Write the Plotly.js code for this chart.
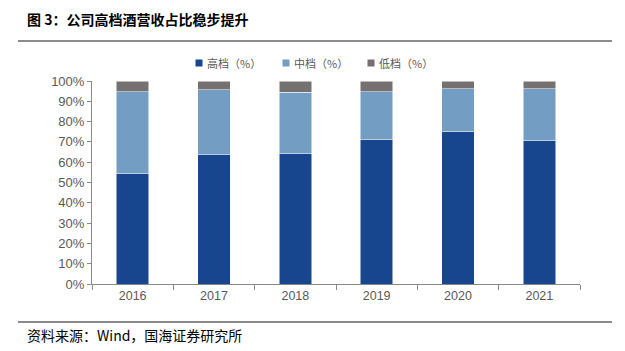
<!DOCTYPE html>
<html><head><meta charset="utf-8">
<script src="https://cdn.plot.ly/plotly-3.0.1.min.js"></script>
<style>html,body{margin:0;padding:0;background:#fff;}#chart{width:625px;height:351px;}</style>
</head><body><div id="chart"></div>
<script>
const years = ['2016','2017','2018','2019','2020','2021'];
const high = [54.2, 63.7, 64.2, 71.1, 74.9, 70.6];
const mid = [40.5, 31.9, 30.2, 23.6, 21.2, 25.5];
const low = [5.3, 4.4, 5.6, 5.3, 3.9, 3.9];
const names = ['高档（%）', '中档（%）', '低档（%）'];
const colors = ['#17468E', '#739DC2', '#757171'];
const tickVals = [0,10,20,30,40,50,60,70,80,90,100];

const W = 625, H = 351, M = {l: 92, r: 45, t: 81, b: 67};
const pw = W - M.l - M.r, ph = H - M.t - M.b;
const px = x => (x - M.l) / pw;
const py = y => (H - M.b - y) / ph;

const font = 'Liberation Sans, Arial, Noto Sans CJK SC, sans-serif';
const cjk = 'Noto Sans CJK SC, sans-serif';
const traces = [high, mid, low].map((v, i) => ({
  type: 'bar', x: years, y: v, name: names[i],
  marker: {color: colors[i], line: {color: '#ffffff', width: 0.5}},
  hoverinfo: 'skip', showlegend: false
}));

// custom legend (small squares + text)
const legX = [199, 286, 371], legY = 63;
const legShapes = names.map((n, i) => ({
  type: 'rect', xref: 'paper', yref: 'paper',
  x0: px(legX[i] - 3.5), x1: px(legX[i] + 3.5), y0: py(legY + 3.5), y1: py(legY - 3.5),
  fillcolor: colors[i], line: {width: 0}
}));
const legAnn = names.map((n, i) => ({
  text: n, xref: 'paper', yref: 'paper', x: px(legX[i] + 6), xanchor: 'left',
  y: py(legY), yanchor: 'middle', showarrow: false,
  font: {family: cjk, size: 11, color: '#595959'}
}));

const layout = {
  width: W, height: H, margin: M,
  barmode: 'stack', bargap: 0.6,
  paper_bgcolor: '#fff', plot_bgcolor: '#fff',
  font: {family: font, size: 12, color: '#595959'},
  xaxis: {type: 'category', showline: true, linecolor: '#898989', linewidth: 1,
    ticks: 'outside', tickson: 'boundaries', ticklen: 5, tickcolor: '#898989',
    tickfont: {family: font, size: 12.5, color: '#595959'}, showgrid: false, zeroline: false,
    fixedrange: true},
  yaxis: {range: [0, 100], tickvals: tickVals, ticktext: tickVals.map(v => v + '%'),
    showline: true, linecolor: '#898989', linewidth: 1, ticks: 'outside', ticklen: 4,
    tickcolor: '#898989', showgrid: false, zeroline: false,
    tickfont: {family: font, size: 13, color: '#595959'}, fixedrange: true},
  shapes: [
    {type: 'line', xref: 'paper', yref: 'paper', x0: px(18), x1: px(612), y0: py(41), y1: py(41),
      line: {color: '#666666', width: 1.5}},
    {type: 'line', xref: 'paper', yref: 'paper', x0: px(18), x1: px(612), y0: py(322), y1: py(322),
      line: {color: '#666666', width: 1.5}}
  ].concat(legShapes),
  annotations: [
    {text: '<b>图 3：公司高档酒营收占比稳步提升</b>', xref: 'paper', yref: 'paper',
      x: px(25), xanchor: 'left', y: py(19), yanchor: 'middle', showarrow: false,
      font: {family: cjk, size: 14, color: '#000'}},
    {text: '资料来源：Wind，国海证券研究所', xref: 'paper', yref: 'paper',
      x: px(25), xanchor: 'left', y: py(335), yanchor: 'middle', showarrow: false,
      font: {family: cjk, size: 14, color: '#000'}}
  ].concat(legAnn)
};
Plotly.newPlot('chart', traces, layout, {displayModeBar: false, staticPlot: true});
</script></body></html>
